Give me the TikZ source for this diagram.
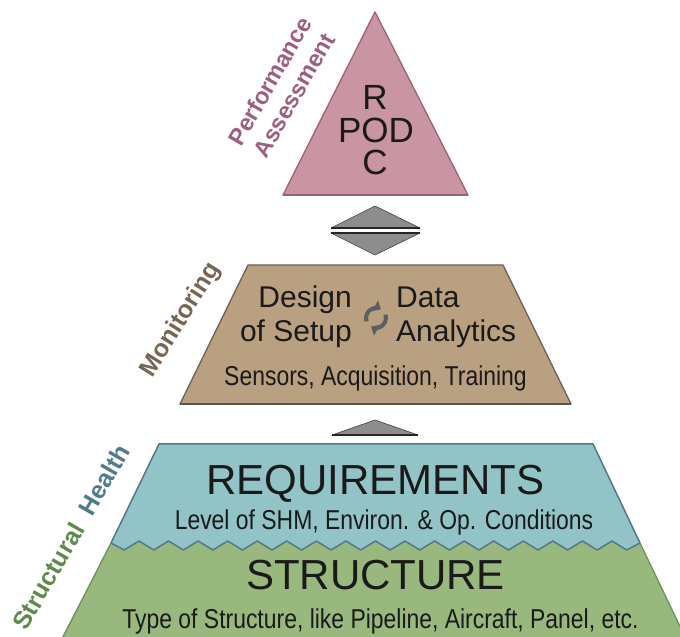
\documentclass[tikz,border=0pt]{standalone}
\usepackage{fontspec}
\setmainfont{Liberation Sans}
\newfontfamily\narrowfont[FakeStretch=0.84]{Liberation Sans}
\usetikzlibrary{arrows.meta}
\definecolor{pinkfill}{HTML}{C995A3}
\definecolor{pinkdraw}{HTML}{9D6079}
\definecolor{pinklabel}{HTML}{9E5F7F}
\definecolor{tanfill}{HTML}{B9A080}
\definecolor{tandraw}{HTML}{6E6253}
\definecolor{tanlabel}{HTML}{786550}
\definecolor{grayfill}{HTML}{8D8D8D}
\definecolor{bluefill}{HTML}{92C3C6}
\definecolor{bluedraw}{HTML}{52798A}
\definecolor{greenfill}{HTML}{98B87E}
\definecolor{greendraw}{HTML}{6A9556}
\definecolor{sgreen}{HTML}{5E8B4B}
\definecolor{sblue}{HTML}{4F7B8D}
\definecolor{iconcol}{HTML}{5C5F62}
\definecolor{txt}{HTML}{1A1A1A}
\tikzset{
  big/.style={inner sep=0pt, text=txt, font=\fontsize{30}{36}\selectfont},
  huge/.style={inner sep=0pt, text=txt, font=\fontsize{42}{48}\selectfont},
  podtxt/.style={inner sep=0pt, text=txt, font=\fontsize{35}{40}\selectfont},
  small/.style={inner sep=0pt, text=txt, font=\narrowfont\fontsize{27.3}{32}\selectfont},
  lbl/.style={inner sep=0pt, font=\bfseries\fontsize{23.5}{28}\selectfont, align=center},
  tri/.style={fill=grayfill, draw=black!75, line width=0.6pt, line join=round},
  ico/.style={draw=iconcol, line width=4pt, -{Triangle[length=7pt,width=12pt]}}
}
\begin{document}
\begin{tikzpicture}[x=1pt,y=1pt]
\useasboundingbox (0,0) rectangle (680,637);
\clip (0,0) rectangle (680,637);
% requirements (blue)
\fill[bluefill] (159,193) -- (593,193) -- (643.5,87) -- (107.5,87) -- cycle;
% structure (green)
\fill[greenfill] (111,94) \foreach \k in {0,...,16}{ -- ({124.2+29.56*\k},87) -- ({139+29.56*\k},96)} -- (626.8,87) -- (640,94) -- (687,-4) -- (60,-4) -- cycle;
\draw[greendraw, line width=1.3pt] (111,94) -- (61,-4);
\draw[greendraw, line width=1.3pt] (640,94) -- (687,-4);
\draw[bluedraw, line width=1.5pt, line join=round] (111,94) -- (159,193) -- (593,193) -- (640,94);
\draw[bluedraw, line width=1.5pt, line join=round] (111,94) \foreach \k in {0,...,16}{ -- ({124.2+29.56*\k},87) -- ({139+29.56*\k},96)} -- (626.8,87) -- (640,94);
% monitoring (tan)
\filldraw[tanfill, draw=tandraw, line width=1.3pt, line join=round] (248,372) -- (503,372) -- (571,233) -- (180,233) -- cycle;
\draw[tandraw!85!black, line width=2.5pt] (180,233) -- (571,233);
% performance (pink)
\filldraw[pinkfill, draw=pinkdraw, line width=1.3pt, line join=round] (283,442) -- (468,442) -- (375,625) -- cycle;
\draw[pinkdraw, line width=2.5pt] (283,442) -- (468,442);
% grey connectors
\path[tri] (331,409) -- (420,409) -- (375,431) -- cycle;
\path[tri] (331,404) -- (420,404) -- (375,382) -- cycle;
\draw[black!85, line width=1.3pt] (331,409) -- (420,409);
\draw[black!85, line width=1.3pt] (331,404) -- (420,404);
\path[tri] (332,202) -- (418,202) -- (375,217) -- cycle;
\draw[black!85, line width=1.3pt] (332,202) -- (418,202);
% texts top
\node[podtxt, anchor=base] (r) at (375,527) {R};
\node[podtxt, anchor=base] (pod) at (376,494) {POD};
\node[podtxt, anchor=base] (c) at (375,462) {C};
% middle texts
\node[big, anchor=base east] (design) at (352,329) {Design};
\node[big, anchor=base east] (setup) at (352,295) {of Setup};
\node[big, anchor=base west] (data) at (396,329) {Data};
\node[big, anchor=base west] (analytics) at (396,295) {Analytics};
\node[small, anchor=base] (sensors) at (375.5,251) {Sensors, Acquisition, Training};
% cycle icon
\draw[ico] (376,319) ++(200:10) arc[start angle=200, end angle=60, radius=10];
\draw[ico] (376,319) ++(20:10) arc[start angle=20, end angle=-120, radius=10];
% lower texts
\node[huge, anchor=base] (req) at (375.5,142) {REQUIREMENTS};
\node[small, anchor=base] (level) at (384,107) {Level of SHM, Environ. \& Op. Conditions};
\node[huge, anchor=base] (struct) at (375.5,47) {STRUCTURE};
\node[small, anchor=base] (type) at (380.5,8) {Type of Structure, like Pipeline, Aircraft, Panel, etc.};
% side labels
\node[lbl, text=pinklabel, rotate=60] (perf) at (282,549) {Performance\\Assessment};
\node[lbl, text=tanlabel, rotate=58, font=\bfseries\fontsize{25}{30}\selectfont] (mon) at (181,317) {Monitoring};
\node[lbl, rotate=60, font=\bfseries\fontsize{25}{30}\selectfont] (sh) at (71,100) {\textcolor{sgreen}{Structural}\hspace{14pt}\textcolor{sblue}{Health}};
\end{tikzpicture}
\end{document}
